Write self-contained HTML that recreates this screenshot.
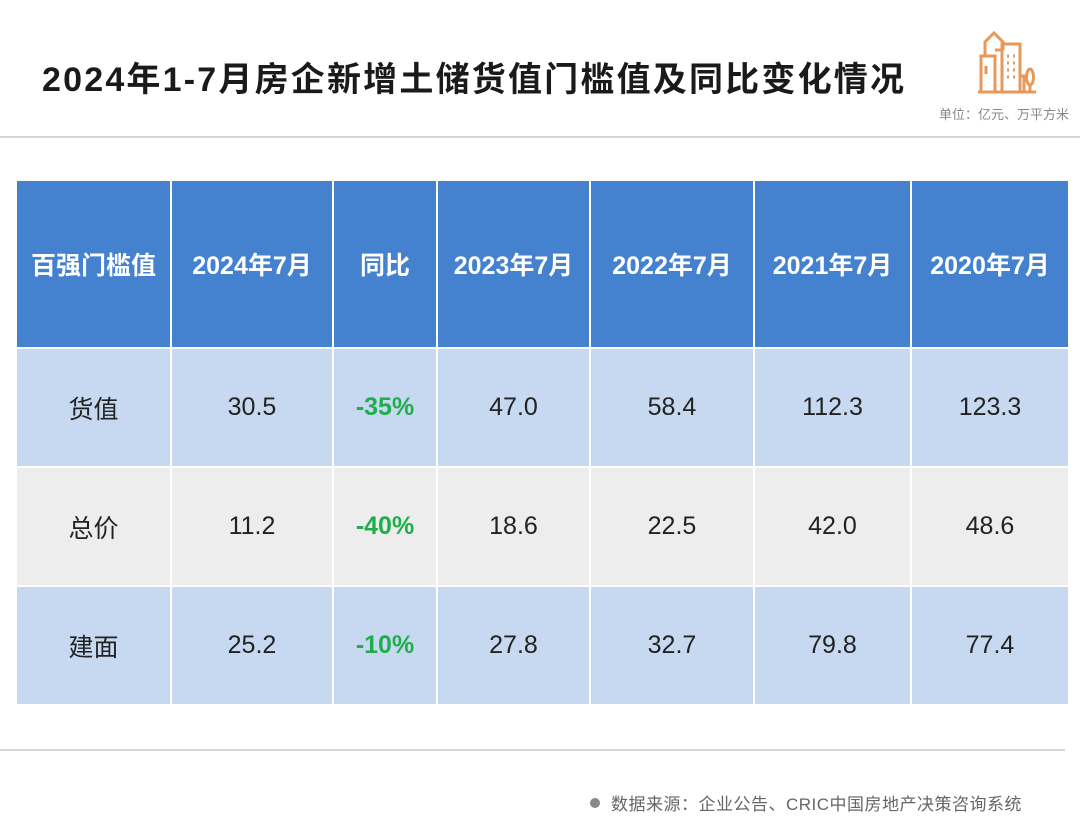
<!DOCTYPE html>
<html><head><meta charset="utf-8"><style>
body{margin:0;width:1080px;height:827px;background:#fff;position:relative;overflow:hidden;font-family:"Liberation Sans","Noto Sans CJK SC",sans-serif}
.title{position:absolute;left:42px;top:52px;font-size:34px;font-weight:bold;color:#1a1a1a;letter-spacing:2.2px;white-space:nowrap}
.unit{position:absolute;left:939px;top:104px;font-size:13px;color:#888}
.hr{position:absolute;left:0;width:1080px;height:2px;background:#d6d6d6}
table{position:absolute;left:15px;top:179px;border-collapse:collapse;table-layout:fixed}
td{border:2px solid #fff;text-align:center;font-size:25px;color:#222;padding:0}
tr.h td{background:#4481cf;color:#fff;font-weight:bold;height:166px}
tr.b td{background:#c6d9f1;height:117px}
tr.g td{background:#ededed;height:117px}
.gr{color:#1fae4b!important;font-weight:bold}
.foot{position:absolute;left:590px;top:790px;font-size:17px;color:#666;white-space:nowrap;letter-spacing:0.5px}
.dot{display:inline-block;width:10px;height:10px;border-radius:50%;background:#888;margin-right:11px;vertical-align:2px}
</style></head><body>
<div class="title">2024年1-7月房企新增土储货值门槛值及同比变化情况</div>
<svg style="position:absolute;left:976px;top:30px" width="62" height="64" viewBox="0 0 62 64" fill="none" stroke="#e8995a" stroke-width="3">
<path d="M5 62 V26 h14 V62 M9 26 V12 l9 -9 l9 9 V20 M19 20 h7 M26 62 V14 h18 V62 M44 46 h4 V62 M2 62 h58"/>
<path d="M10 36 v8 M31 26 h2 M37 26h2 M31 33h2 M37 33h2 M31 40h2 M37 40h2 M31 47h2 M37 47h2"/>
<ellipse cx="54" cy="47" rx="3.5" ry="8"/><path d="M54 55 v7"/>
</svg>
<div class="unit">单位：亿元、万平方米</div>
<div class="hr" style="top:136px"></div>
<table>
<colgroup><col style="width:155px"><col style="width:162px"><col style="width:104px"><col style="width:153px"><col style="width:164px"><col style="width:157px"><col style="width:158px"></colgroup>
<tr class="h"><td>百强门槛值</td><td>2024年7月</td><td>同比</td><td>2023年7月</td><td>2022年7月</td><td>2021年7月</td><td>2020年7月</td></tr>
<tr class="b"><td>货值</td><td>30.5</td><td class="gr">-35%</td><td>47.0</td><td>58.4</td><td>112.3</td><td>123.3</td></tr>
<tr class="g"><td>总价</td><td>11.2</td><td class="gr">-40%</td><td>18.6</td><td>22.5</td><td>42.0</td><td>48.6</td></tr>
<tr class="b"><td>建面</td><td>25.2</td><td class="gr">-10%</td><td>27.8</td><td>32.7</td><td>79.8</td><td>77.4</td></tr>
</table>
<div class="hr" style="top:749px;width:1065px"></div>
<div class="foot"><span class="dot"></span>数据来源：企业公告、CRIC中国房地产决策咨询系统</div>
</body></html>
